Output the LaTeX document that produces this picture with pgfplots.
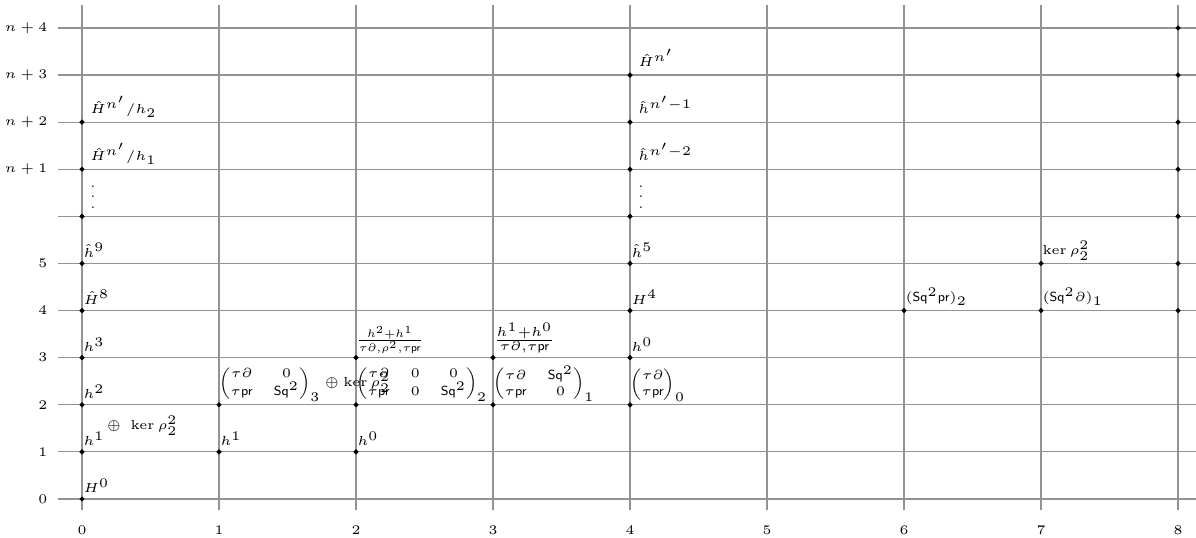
\documentclass[border=0pt]{standalone}
\usepackage{amsmath}
\usepackage{pgfplots}
\pgfplotsset{compat=1.18}
\begin{document}
\begin{tikzpicture}
\begin{axis}[
    scale only axis,
    width=15.223cm, height=6.757cm,
    xmin=-0.175, xmax=8.131,
    ymin=-0.234, ymax=10.49,
    axis line style={draw=none},
    major tick length=0pt,
    xtick={0,...,8},
    ytick={0,...,10},
    yticklabels={$0$,$1$,$2$,$3$,$4$,$5$,{},$n+1$,$n+2$,$n+3$,$n+4$},
    grid=major,
    grid style={gray!85, line width=0.45pt},
    tick label style={font=\tiny},
    xticklabel style={yshift=-2.5pt},
    yticklabel style={xshift=-0.5pt},
    clip=false,
]
% occupied positions
\addplot[only marks, mark=*, mark size=0.75pt, black] coordinates {
    (0,0) (0,1) (0,2) (0,3) (0,4) (0,5) (0,6) (0,7) (0,8)
    (1,1) (1,2)
    (2,1) (2,2) (2,3)
    (3,2) (3,3)
    (4,2) (4,3) (4,4) (4,5) (4,6) (4,7) (4,8) (4,9)
    (6,4)
    (7,4) (7,5)
    (8,4) (8,5) (8,6) (8,7) (8,8) (8,9) (8,10)
};
\coordinate (BL) at (axis cs:-0.5985,-0.828);
\coordinate (TR) at (axis cs:8.131,10.594);
% shifts add up: every node gives (0.4pt, 2.4pt), the styles add to that
\begin{scope}[every node/.style={anchor=base west, inner sep=0pt, xshift=0.4pt, yshift=2.4pt, font=\tiny},
              mat/.style={anchor=south west, yshift=-1.4pt, xshift=-0.4pt},
              up/.style={xshift=2.6pt, yshift=0.8pt}]
\node at (axis cs:0,0) {$H^0$};
\node at (axis cs:0,1) {$h^1$};
\node at (axis cs:0,2) {$h^2$};
\node at (axis cs:0,3) {$h^3$};
\node at (axis cs:0,4) {$\hat H^8$};
\node at (axis cs:0,5) {$\hat h^9$};
\node[up, yshift=-0.2pt] at (axis cs:0,6) {$\vdots$};
\node[up] at (axis cs:0,7) {$\hat H^{n'}/h_1$};
\node[up] at (axis cs:0,8) {$\hat H^{n'}/h_2$};
\node at (axis cs:0.17,1.34) {$\oplus\ \ker\rho_2^2$};
\node at (axis cs:1,1) {$h^1$};
\node[mat] at (axis cs:1,2) {$\arraycolsep=4pt\begin{pmatrix}\tau\partial & 0\\ \tau\mathsf{pr} & \mathsf{Sq}^2\end{pmatrix}_3\oplus\ker\rho_2^2$};
\node at (axis cs:2,1) {$h^0$};
\node[mat] at (axis cs:2,2) {$\arraycolsep=4pt\begin{pmatrix}\tau\partial & 0 & 0\\ \tau\mathsf{pr} & 0 & \mathsf{Sq}^2\end{pmatrix}_2$};
\node[mat, scale=0.82, yshift=0.6pt] at (axis cs:2,3) {$\frac{h^2+h^1}{\tau\partial,\rho^2,\tau\mathsf{pr}}$};
\node[mat] at (axis cs:3,2) {$\arraycolsep=4pt\begin{pmatrix}\tau\partial & \mathsf{Sq}^2\\ \tau\mathsf{pr} & 0\end{pmatrix}_1$};
\node[mat, yshift=0.6pt] at (axis cs:3,3) {$\frac{h^1+h^0}{\tau\partial,\tau\mathsf{pr}}$};
\node[mat] at (axis cs:4,2) {$\begin{pmatrix}\tau\partial\\ \tau\mathsf{pr}\end{pmatrix}_0$};
\node at (axis cs:4,3) {$h^0$};
\node at (axis cs:4,4) {$H^4$};
\node at (axis cs:4,5) {$\hat h^5$};
\node[up, yshift=-0.2pt] at (axis cs:4,6) {$\vdots$};
\node[up] at (axis cs:4,7) {$\hat h^{n'-2}$};
\node[up] at (axis cs:4,8) {$\hat h^{n'-1}$};
\node[up] at (axis cs:4,9) {$\hat H^{n'}$};
\node[yshift=1pt] at (axis cs:6,4) {$(\mathsf{Sq}^2\mathsf{pr})_2$};
\node[yshift=1pt] at (axis cs:7,4) {$(\mathsf{Sq}^2\partial)_1$};
\node[yshift=1pt] at (axis cs:7,5) {$\ker\rho_2^2$};
\end{scope}
\end{axis}
\pgfresetboundingbox
\useasboundingbox (BL) rectangle (TR);
\end{tikzpicture}
\end{document}
